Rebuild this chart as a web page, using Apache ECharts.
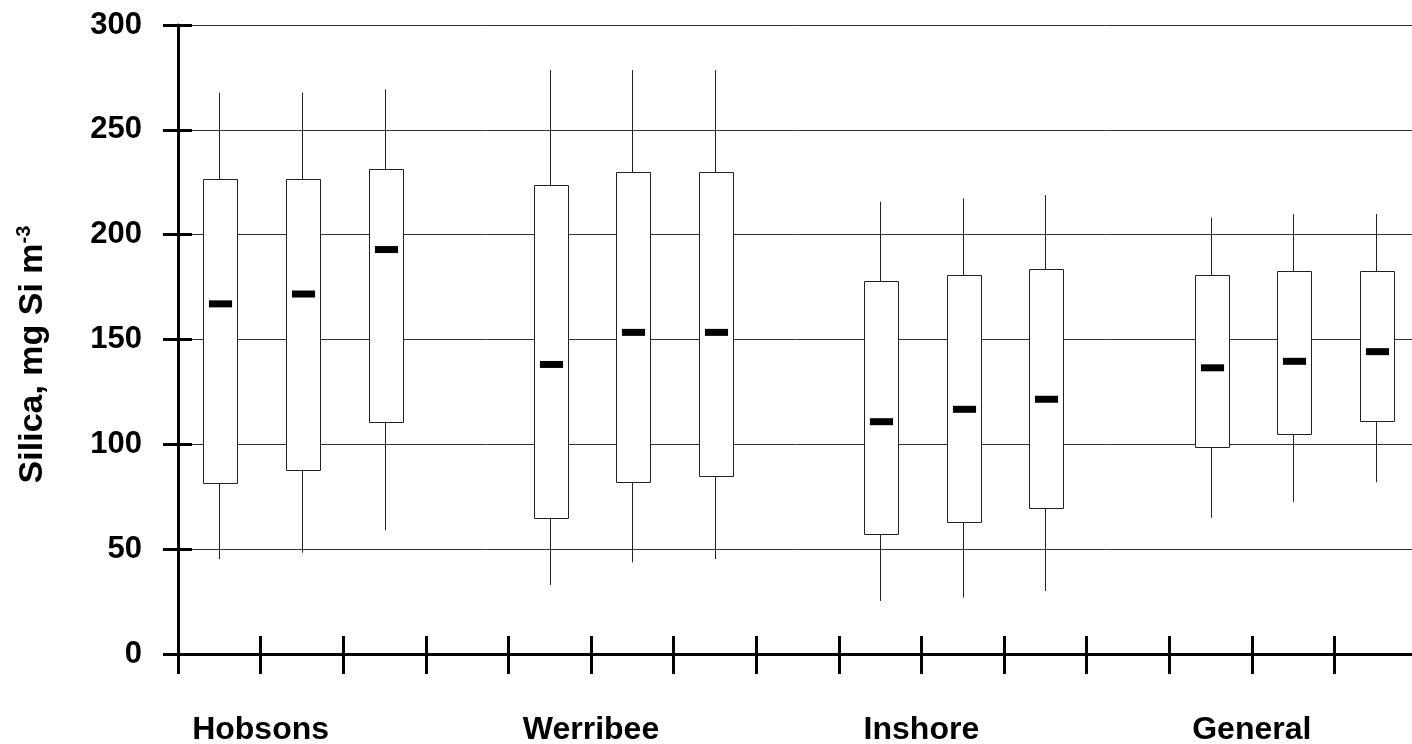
<!DOCTYPE html>
<html>
<head>
<meta charset="utf-8">
<script src="https://cdn.jsdelivr.net/npm/echarts@6/dist/echarts.min.js"></script>
<style>
html, body { margin: 0; padding: 0; background: #fff; }
#chart { width: 1412px; height: 744px; }
</style>
</head>
<body>
<div id="chart"></div>
<script>
// site groups, three boxes each, with an empty slot between groups
var groups = ['Hobsons', 'Werribee', 'Inshore', 'General'];
var perGroup = 3;

// box statistics, one entry per box, in reading order
var whiskerLow  = [45.2, 48.3, 59.0,   32.9, 43.7, 45.3,   25.3, 26.9, 30.0,   65.0, 72.6, 81.9];
var quartile1   = [81.9, 87.7, 110.6,  64.9, 81.9, 84.7,   57.2, 63.3, 69.5,   98.7, 104.8, 110.8];
var medianVal   = [167.0, 171.7, 192.9, 138.1, 153.4, 153.4, 110.8, 116.7, 121.5, 136.5, 139.6, 144.2];
var quartile3   = [226.7, 226.7, 231.1, 223.5, 229.7, 229.7, 177.7, 180.9, 183.7, 180.9, 182.5, 182.5];
var whiskerHigh = [267.7, 267.7, 269.3, 278.5, 278.5, 278.5, 215.7, 217.3, 218.9, 208.1, 209.8, 209.8];

var yTicks = [0, 50, 100, 150, 200, 250, 300];

// build the slot categories and the box rows
var slots = [];
var labelAt = {};
var boxes = [];
groups.forEach(function (g, gi) {
  labelAt[slots.length + 1] = g;
  for (var k = 0; k < perGroup; k++) {
    var i = gi * perGroup + k;
    boxes.push([slots.length, whiskerLow[i], quartile1[i], medianVal[i], quartile3[i], whiskerHigh[i]]);
    slots.push(g + ' ' + (k + 1));
  }
  if (gi < groups.length - 1) slots.push('gap ' + gi);
});

var font = "'Liberation Sans', Arial, sans-serif";

function renderBox(params, api) {
  var x = api.value(0);
  var low = api.coord([x, api.value(1)]);
  var q1 = api.coord([x, api.value(2)]);
  var med = api.coord([x, api.value(3)]);
  var q3 = api.coord([x, api.value(4)]);
  var high = api.coord([x, api.value(5)]);
  var band = api.size([1, 0])[0];
  var bw = band * 0.41;
  var mw = band * 0.28;
  var cx = Math.round(q3[0]) + 0.5;
  return {
    type: 'group',
    children: [
      { type: 'line', shape: { x1: cx, y1: low[1], x2: cx, y2: high[1] },
        style: { stroke: '#222', lineWidth: 1 } },
      { type: 'rect', shape: { x: Math.round(cx - bw / 2) + 0.5, y: Math.round(q3[1]) + 0.5, width: Math.round(bw), height: Math.round(q1[1] - q3[1]) },
        style: { fill: '#fff', stroke: '#222', lineWidth: 1 } },
      { type: 'rect', shape: { x: cx - mw / 2 + 1, y: med[1] - 3.5, width: mw, height: 7 },
        style: { fill: '#000' } }
    ]
  };
}

var chart = echarts.init(document.getElementById('chart'), null, { renderer: 'canvas' });
var option = {
  animation: false,
  backgroundColor: '#fff',
  grid: { left: 178, width: 1239, top: 25, bottom: 90, containLabel: false, outerBoundsMode: 'none' },
  xAxis: [
    {
      type: 'category',
      data: slots,
      boundaryGap: true,
      axisLine: { lineStyle: { color: '#000', width: 3 } },
      axisTick: { show: true, length: 20, lineStyle: { color: '#000', width: 3 } },
      axisLabel: { show: false },
      splitLine: { show: false }
    },
    {
      type: 'value',
      min: 0,
      max: slots.length,
      interval: 1,
      position: 'bottom',
      axisLine: { show: false },
      axisTick: { show: true, inside: true, length: 18, lineStyle: { color: '#000', width: 3 } },
      axisLabel: {
        show: true,
        margin: 60,
        color: '#000',
        fontSize: 32,
        fontWeight: 'bold',
        fontFamily: font,
        showMinLabel: true,
        showMaxLabel: true,
        formatter: function (v) { return labelAt[v] || ''; }
      },
      splitLine: { show: false }
    }
  ],
  yAxis: [
    {
      type: 'value',
      min: yTicks[0],
      max: yTicks[yTicks.length - 1],
      interval: 50,
      name: '{a|Silica, mg Si m}{b|-3}',
      nameLocation: 'middle',
      nameGap: 126,
      nameRotate: 90,
      nameTextStyle: {
        padding: [0, 30, 0, 0],
        rich: {
          a: { fontSize: 34, fontWeight: 'bold', fontFamily: font, color: '#000', lineHeight: 38 },
          b: { fontSize: 20, fontWeight: 'bold', fontFamily: font, color: '#000', verticalAlign: 'top', lineHeight: 20 }
        }
      },
      axisLine: { show: true, lineStyle: { color: '#000', width: 3 } },
      axisTick: { show: true, length: 15, lineStyle: { color: '#000', width: 3 } },
      axisLabel: { margin: 36, color: '#000', fontSize: 31, fontWeight: 'bold', fontFamily: font },
      splitLine: { show: true, lineStyle: { color: '#333', width: 1 } }
    },
    {
      type: 'value',
      min: yTicks[0],
      max: yTicks[yTicks.length - 1],
      interval: 50,
      position: 'left',
      axisLine: { show: false },
      axisTick: { show: true, inside: true, length: 14, lineStyle: { color: '#000', width: 3 } },
      axisLabel: { show: false },
      splitLine: { show: false }
    }
  ],
  series: [
    {
      type: 'custom',
      xAxisIndex: 0,
      yAxisIndex: 0,
      renderItem: renderBox,
      encode: { x: 0, y: [1, 2, 3, 4, 5] },
      data: boxes,
      z: 3
    }
  ]
};
chart.setOption(option);
</script>
</body>
</html>
